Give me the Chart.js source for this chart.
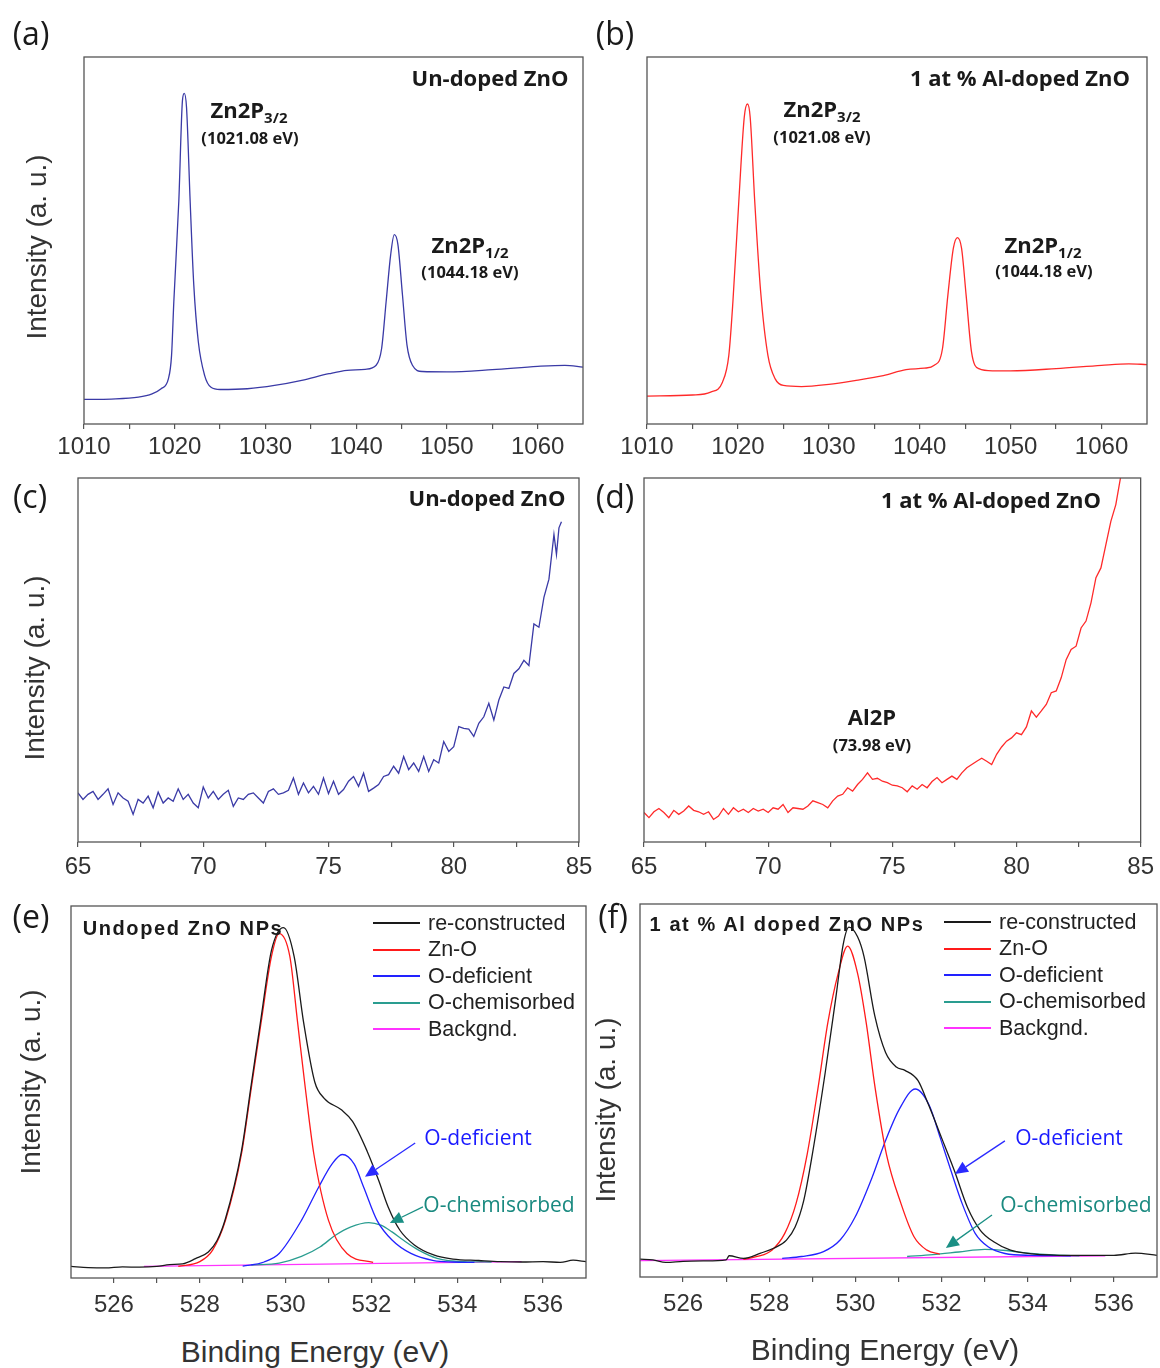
<!DOCTYPE html>
<html>
<head>
<meta charset="utf-8">
<script src="https://cdn.jsdelivr.net/npm/chart.js@4.4.0/dist/chart.umd.min.js"></script>
<style>
  body { margin: 0; background: #fff; }
  #fig { position: relative; width: 1160px; height: 1368px; overflow: hidden; }
  canvas { position: absolute; }
  .t { position: absolute; white-space: nowrap; transform: translate(-50%, -50%); line-height: 1; color: #1a1a1a; }
  .lab { font: 32px "Open Sans"; }
  .name { font: bold 22px "Open Sans"; }
  .pk { font: bold 22px "Open Sans"; }
  .pk sub { font-size: 15px; position: relative; top: 5px; vertical-align: baseline; }
  .ev { font: bold 16.5px "Open Sans"; }
  .ytl { font: 28px "Liberation Sans"; color: #333; transform: translate(-50%, -50%) rotate(-90deg); }
  .xtl { font: 30px "Liberation Sans"; color: #333; }
  .np { font: bold 20px "Liberation Sans"; letter-spacing: 1.6px; }
  .ann { font: 21px "Open Sans"; }
  .legend { position: absolute; font: 21.5px "Liberation Sans"; color: #222; }
  .legend div { height: 26.5px; display: flex; align-items: center; white-space: nowrap; }
  .legend span.ln { display: inline-block; width: 47px; height: 2px; margin-right: 8px; }
</style>
</head>
<body>
<div id="fig">
  <canvas id="ca" width="600" height="425" style="left:0px;top:45px"></canvas>
  <canvas id="cb" width="560" height="425" style="left:600px;top:45px"></canvas>
  <canvas id="cc" width="600" height="415" style="left:0px;top:470px"></canvas>
  <canvas id="cd" width="560" height="415" style="left:600px;top:470px"></canvas>
  <canvas id="ce" width="600" height="440" style="left:0px;top:895px"></canvas>
  <canvas id="cf" width="560" height="440" style="left:600px;top:895px"></canvas>

  <div class="t lab" style="left:31px;top:32px">(a)</div>
  <div class="t lab" style="left:615px;top:32px">(b)</div>
  <div class="t lab" style="left:30px;top:495px">(c)</div>
  <div class="t lab" style="left:615px;top:495px">(d)</div>
  <div class="t lab" style="left:31px;top:915px">(e)</div>
  <div class="t lab" style="left:613px;top:915px">(f)</div>

  <div class="t ytl" style="left:37px;top:247px">Intensity (a. u.)</div>
  <div class="t ytl" style="left:35px;top:668px">Intensity (a. u.)</div>
  <div class="t ytl" style="left:31px;top:1082px">Intensity (a. u.)</div>
  <div class="t ytl" style="left:606px;top:1110px">Intensity (a. u.)</div>
  <div class="t xtl" style="left:315px;top:1352px">Binding Energy (eV)</div>
  <div class="t xtl" style="left:885px;top:1350px">Binding Energy (eV)</div>

  <div class="t name" style="left:490px;top:77px">Un-doped ZnO</div>
  <div class="t pk" style="left:249px;top:109px">Zn2P<sub>3/2</sub></div>
  <div class="t ev" style="left:250px;top:137px">(1021.08 eV)</div>
  <div class="t pk" style="left:470px;top:244px">Zn2P<sub>1/2</sub></div>
  <div class="t ev" style="left:470px;top:271px">(1044.18 eV)</div>

  <div class="t name" style="left:1020px;top:77px">1 at % Al-doped ZnO</div>
  <div class="t pk" style="left:822px;top:108px">Zn2P<sub>3/2</sub></div>
  <div class="t ev" style="left:822px;top:136px">(1021.08 eV)</div>
  <div class="t pk" style="left:1043px;top:244px">Zn2P<sub>1/2</sub></div>
  <div class="t ev" style="left:1044px;top:270px">(1044.18 eV)</div>

  <div class="t name" style="left:487px;top:497px">Un-doped ZnO</div>
  <div class="t name" style="left:991px;top:499px">1 at % Al-doped ZnO</div>
  <div class="t pk" style="left:872px;top:716px">Al2P</div>
  <div class="t ev" style="left:872px;top:744px">(73.98 eV)</div>

  <div class="t np" style="left:183px;top:928px">Undoped ZnO NPs</div>
  <div class="t ann" style="left:478px;top:1137px;color:#1a1aff">O-deficient</div>
  <div class="t ann" style="left:499px;top:1204px;color:#1a8a80">O-chemisorbed</div>
  <div class="legend" id="lege" style="left:373px;top:910px"></div>

  <div class="t np" style="left:787px;top:924px">1 at % Al doped ZnO NPs</div>
  <div class="t ann" style="left:1069px;top:1137px;color:#1a1aff">O-deficient</div>
  <div class="t ann" style="left:1076px;top:1204px;color:#1a8a80">O-chemisorbed</div>
  <div class="legend" id="legf" style="left:944px;top:909px"></div>
</div>

<script>
// tick labels
const zn2pMajor = [1010, 1020, 1030, 1040, 1050, 1060];
const zn2pMinor = [1015, 1025, 1035, 1045, 1055];
const al2pMajor = [65, 70, 75, 80, 85];
const al2pMinor = [67.5, 72.5, 77.5, 82.5];
const o1sMajor = [526, 528, 530, 532, 534, 536];
const o1sMinor = [527, 529, 531, 533, 535];

// (a) Zn 2p, un-doped  (intensity as fraction of frame height)
const aE = [1010,1013,1016,1017.5,1018.5,1019.3,1019.65,1019.9,1020.45,1020.85,1021.05,1021.3,1021.7,1022.1,1022.6,1023.3,1024,1025,1028,1031,1034,1037,1039,1041,1042.2,1042.8,1043.3,1043.8,1044.2,1044.6,1045.1,1045.6,1046.2,1047.3,1050,1055,1060,1063,1065];
const aI = [.067,.068,.073,.082,.096,.123,.187,.333,.607,.881,.901,.863,.607,.379,.224,.132,.100,.094,.096,.105,.119,.137,.146,.149,.160,.205,.333,.461,.516,.489,.352,.215,.160,.143,.142,.148,.157,.160,.155];

// (b) Zn 2p, 1 at% Al
const bE = [1010,1015,1017,1018.3,1019.0,1019.45,1020.1,1020.7,1021.05,1021.35,1021.85,1022.5,1023.3,1024.1,1025,1027,1030,1033,1036,1038.5,1040.5,1041.6,1042.5,1043.1,1043.7,1044.15,1044.6,1045.1,1045.7,1046.5,1048,1050,1055,1060,1063,1065];
const bI = [.076,.079,.087,.114,.187,.333,.607,.836,.872,.836,.607,.361,.187,.123,.105,.102,.108,.119,.132,.148,.152,.160,.205,.352,.479,.508,.479,.352,.196,.151,.145,.145,.151,.160,.164,.162];

// (c) Al 2p region, un-doped
const cE = [65.0,65.2,65.4,65.6,65.8,66.0,66.2,66.4,66.6,66.8,67.0,67.2,67.4,67.6,67.8,68.0,68.2,68.4,68.6,68.8,
  69.0,69.2,69.4,69.6,69.8,70.0,70.2,70.4,70.6,70.8,71.0,71.2,71.4,71.6,71.8,72.0,72.2,72.4,72.6,72.8,
  73.0,73.2,73.4,73.6,73.8,74.0,74.2,74.4,74.6,74.8,75.0,75.2,75.4,75.6,75.8,76.0,76.2,76.4,76.6,76.8,
  77.0,77.2,77.4,77.6,77.8,78.0,78.2,78.4,78.6,78.8,79.0,79.2,79.4,79.6,79.8,80.0,80.2,80.4,80.6,80.8,
  81.0,81.2,81.4,81.6,81.8,82.0,82.2,82.4,82.6,82.8,83.0,83.2,83.4,83.6,83.8,84.0,84.1,84.2,84.3];
const cI = [.135,.117,.131,.139,.117,.131,.146,.103,.135,.121,.112,.076,.117,.107,.126,.094,.137,.107,.121,.112,
  .146,.117,.131,.107,.094,.151,.121,.139,.117,.131,.142,.098,.121,.117,.131,.135,.121,.107,.139,.146,
  .131,.135,.142,.176,.131,.162,.135,.153,.131,.176,.133,.167,.131,.144,.167,.180,.153,.189,.139,.148,
  .158,.180,.185,.208,.189,.235,.199,.217,.194,.235,.194,.226,.217,.276,.249,.262,.317,.312,.310,.290,
  .326,.344,.381,.335,.390,.426,.422,.463,.476,.499,.485,.599,.590,.672,.722,.845,.790,.863,.880];

// (d) Al 2p region, 1 at% Al
const dE = [65.0,65.2,65.4,65.6,65.8,66.0,66.2,66.4,66.6,66.8,67.0,67.2,67.4,67.6,67.8,68.0,68.2,68.4,68.6,68.8,
  69.0,69.2,69.4,69.6,69.8,70.0,70.2,70.4,70.6,70.8,71.0,71.2,71.4,71.6,71.8,72.0,72.2,72.4,72.6,72.8,
  73.0,73.2,73.4,73.6,73.8,74.0,74.2,74.4,74.6,74.8,75.0,75.2,75.4,75.6,75.8,76.0,76.2,76.4,76.6,76.8,
  77.0,77.2,77.4,77.6,77.8,78.0,78.2,78.4,78.6,78.8,79.0,79.2,79.4,79.6,79.8,80.0,80.2,80.4,80.6,80.8,
  81.0,81.2,81.4,81.6,81.8,82.0,82.2,82.4,82.6,82.8,83.0,83.2,83.4,83.6,83.8,84.0,84.2];
const dI = [.081,.067,.083,.092,.081,.067,.087,.076,.085,.099,.087,.083,.076,.083,.062,.071,.092,.076,.094,.083,
  .090,.081,.092,.085,.090,.081,.094,.090,.103,.081,.094,.092,.090,.099,.113,.108,.103,.094,.113,.126,
  .131,.149,.140,.158,.172,.190,.172,.175,.167,.163,.156,.154,.149,.138,.154,.145,.158,.149,.166,.177,
  .163,.172,.181,.172,.190,.204,.213,.222,.230,.222,.213,.241,.261,.277,.286,.300,.295,.316,.360,.343,
  .360,.378,.410,.415,.451,.501,.529,.538,.588,.607,.657,.726,.753,.817,.881,.927,1.005];

// (e) O 1s, undoped
const eSumE = [525,525.4,525.8,526.2,526.6,527,527.3,527.6,527.9,528.2,528.4,528.6,528.97,529.2,529.43,529.67,529.95,530.2,530.42,530.68,530.9,531.3,531.56,531.9,532.17,532.39,532.66,533.0,533.45,533.9,534.5,535,535.5,536,536.4,536.7,537];
const eSumI = [.031,.028,.027,.030,.029,.031,.036,.038,.052,.070,.10,.16,.34,.52,.70,.88,.942,.864,.687,.527,.483,.452,.421,.341,.262,.191,.129,.089,.062,.051,.047,.044,.043,.044,.042,.048,.044];
const eZnOE = [527.5,528,528.3,528.6,528.97,529.2,529.43,529.67,529.85,530.1,530.28,530.46,530.66,531.0,531.43,532.04];
const eZnOI = [.031,.044,.075,.155,.332,.510,.687,.864,.926,.864,.687,.510,.332,.155,.066,.042];
const eDefE = [529,529.5,529.85,530.37,530.77,531.08,531.32,531.6,531.82,532.13,532.48,532.92,533.45,533.9,534.4];
const eDefI = [.032,.043,.066,.155,.244,.306,.332,.306,.244,.155,.102,.066,.047,.043,.042];
const eChemE = [529.2,529.85,530.37,530.81,531.16,531.51,531.94,532.22,532.48,532.74,533.1,533.53,534.15,534.8];
const eChemI = [.035,.040,.058,.084,.115,.137,.149,.142,.124,.102,.075,.053,.044,.043];
const eBgE = [526.7, 535.5];
const eBgI = [.031, .044];

// (f) O 1s, 1 at% Al
const fSumE = [525,525.3,525.6,526,526.5,527,527.07,527.4,527.8,528.1,528.4,528.6,528.8,529.0,529.3,529.55,529.72,529.85,530.05,530.2,530.45,530.7,530.95,531.15,531.45,531.7,532.0,532.3,532.6,532.9,533.2,533.6,534.1,535,536,536.5,537];
const fSumI = [.048,.046,.039,.042,.043,.046,.057,.050,.064,.077,.099,.134,.205,.329,.549,.753,.894,.938,.912,.859,.700,.602,.563,.554,.527,.461,.373,.284,.187,.125,.095,.072,.062,.058,.058,.064,.058];
const fZnOE = [527.4,527.72,528.06,528.36,528.62,528.88,529.13,529.36,529.6,529.82,530.05,530.25,530.46,530.72,531.06,531.36,531.66,531.96];
const fZnOI = [.047,.055,.072,.117,.196,.329,.505,.682,.814,.887,.814,.682,.505,.329,.196,.108,.072,.061];
const fDefE = [528.3,528.75,529.26,529.65,529.99,530.38,530.68,531.02,531.39,531.71,531.97,532.22,532.48,532.78,533.08,533.47,534.07,535];
const fDefI = [.050,.055,.068,.100,.160,.265,.360,.450,.504,.461,.373,.284,.196,.117,.081,.063,.058,.057];
const fChemE = [531.2,531.8,532.4,533.0,533.5,534.0,534.6,535.2];
const fChemI = [.055,.060,.067,.074,.071,.064,.059,.057];
const fBgE = [525, 535.8];
const fBgI = [.044, .057];

const fitNames = ['re-constructed', 'Zn-O', 'O-deficient', 'O-chemisorbed', 'Backgnd.'];
const fitColors = ['#1a1a1a', '#ff1a1a', '#2222ff', '#2a9d90', '#ff33ff'];

function pts(E, I) {
  return E.map((x, i) => ({ x: x, y: I[i] }));
}

const framePlugin = {
  id: 'frame',
  afterDatasetsDraw(chart) {
    const a = chart.chartArea, ctx = chart.ctx;
    ctx.save();
    ctx.strokeStyle = '#555';
    ctx.lineWidth = 1.3;
    ctx.strokeRect(a.left, a.top, a.right - a.left, a.bottom - a.top);
    ctx.restore();
  }
};

function arrowPlugin(list) {
  return {
    id: 'arrows',
    afterDatasetsDraw(chart) {
      const ctx = chart.ctx, xs = chart.scales.x, ys = chart.scales.y;
      list.forEach(a => {
        const x1 = xs.getPixelForValue(a.from[0]), y1 = ys.getPixelForValue(a.from[1]);
        const x2 = xs.getPixelForValue(a.to[0]), y2 = ys.getPixelForValue(a.to[1]);
        const ang = Math.atan2(y2 - y1, x2 - x1);
        const hl = 13, hw = 6;
        const bx = x2 - hl * Math.cos(ang), by = y2 - hl * Math.sin(ang);
        ctx.save();
        ctx.strokeStyle = a.color;
        ctx.fillStyle = a.color;
        ctx.lineWidth = 1.3;
        ctx.beginPath();
        ctx.moveTo(x1, y1);
        ctx.lineTo(bx, by);
        ctx.stroke();
        ctx.beginPath();
        ctx.moveTo(x2, y2);
        ctx.lineTo(bx + hw * Math.sin(ang), by - hw * Math.cos(ang));
        ctx.lineTo(bx - hw * Math.sin(ang), by + hw * Math.cos(ang));
        ctx.closePath();
        ctx.fill();
        ctx.restore();
      });
    }
  };
}

function makePanel(id, p) {
  const cv = document.getElementById(id);
  const cx = parseFloat(cv.style.left), cy = parseFloat(cv.style.top);
  const cw = cv.width, ch = cv.height;
  const ticks = p.major.concat(p.minor).sort((a, b) => a - b);
  return new Chart(cv, {
    type: 'line',
    data: {
      datasets: p.series.map(s => ({
        label: s.label,
        data: pts(s.E, s.I),
        borderColor: s.color,
        borderWidth: 1.3,
        pointRadius: 0,
        fill: false,
        cubicInterpolationMode: s.smooth ? 'monotone' : 'default',
        tension: 0
      }))
    },
    options: {
      responsive: false,
      animation: false,
      events: [],
      layout: { padding: { left: p.area.l - cx, top: p.area.t - cy, right: cx + cw - p.area.r, bottom: 0 } },
      plugins: { legend: { display: false }, tooltip: { enabled: false } },
      scales: {
        x: {
          type: 'linear', min: p.min, max: p.max,
          afterBuildTicks: sc => { sc.ticks = ticks.map(v => ({ value: v })); },
          afterFit: sc => { sc.height = cy + ch - p.area.b; },
          grid: { display: true, drawOnChartArea: false, drawTicks: true, tickLength: 5, color: '#555', lineWidth: 1.2 },
          border: { display: false },
          ticks: {
            autoSkip: false, maxRotation: 0, padding: p.tickPad, color: '#333',
            font: { family: 'Liberation Sans', size: 24 },
            callback: v => p.major.includes(v) ? String(v) : ''
          }
        },
        y: { display: false, min: 0, max: 1 }
      }
    },
    plugins: [framePlugin, arrowPlugin(p.arrows || [])]
  });
}

function buildLegend(el, chart) {
  chart.data.datasets.forEach(ds => {
    const row = document.createElement('div');
    const ln = document.createElement('span');
    ln.className = 'ln';
    ln.style.backgroundColor = ds.borderColor;
    row.appendChild(ln);
    row.appendChild(document.createTextNode(ds.label));
    el.appendChild(row);
  });
}

const blueLine = '#3a3aa6', redLine = '#ff2a2a';

makePanel('ca', { area: { l: 84, t: 57, r: 583, b: 424 }, min: 1010, max: 1065, major: zn2pMajor, minor: zn2pMinor, tickPad: 4,
  series: [{ label: 'Un-doped ZnO', E: aE, I: aI, color: blueLine, smooth: true }] });
makePanel('cb', { area: { l: 647, t: 57, r: 1147, b: 424 }, min: 1010, max: 1065, major: zn2pMajor, minor: zn2pMinor, tickPad: 4,
  series: [{ label: '1 at % Al-doped ZnO', E: bE, I: bI, color: redLine, smooth: true }] });
makePanel('cc', { area: { l: 78, t: 478, r: 579, b: 842 }, min: 65, max: 85, major: al2pMajor, minor: al2pMinor, tickPad: 6,
  series: [{ label: 'Un-doped ZnO', E: cE, I: cI, color: blueLine, smooth: false }] });
makePanel('cd', { area: { l: 644, t: 478, r: 1144, b: 842 }, min: 65, max: 85, major: al2pMajor, minor: al2pMinor, tickPad: 6,
  series: [{ label: '1 at % Al-doped ZnO', E: dE, I: dI, color: redLine, smooth: false }] });

const chE = makePanel('ce', { area: { l: 71, t: 906, r: 586, b: 1278 }, min: 525, max: 537, major: o1sMajor, minor: o1sMinor, tickPad: 8,
  series: [
    { label: fitNames[0], E: eSumE, I: eSumI, color: fitColors[0], smooth: true },
    { label: fitNames[1], E: eZnOE, I: eZnOI, color: fitColors[1], smooth: true },
    { label: fitNames[2], E: eDefE, I: eDefI, color: fitColors[2], smooth: true },
    { label: fitNames[3], E: eChemE, I: eChemI, color: fitColors[3], smooth: true },
    { label: fitNames[4], E: eBgE, I: eBgI, color: fitColors[4], smooth: true }
  ],
  arrows: [
    { from: [533.02, 0.363], to: [531.85, 0.272], color: '#2a2aff' },
    { from: [533.20, 0.191], to: [532.43, 0.148], color: '#1a8f84' }
  ] });
const chF = makePanel('cf', { area: { l: 640, t: 904, r: 1157, b: 1277 }, min: 525, max: 537, major: o1sMajor, minor: o1sMinor, tickPad: 8,
  series: [
    { label: fitNames[0], E: fSumE, I: fSumI, color: fitColors[0], smooth: true },
    { label: fitNames[1], E: fZnOE, I: fZnOI, color: fitColors[1], smooth: true },
    { label: fitNames[2], E: fDefE, I: fDefI, color: fitColors[2], smooth: true },
    { label: fitNames[3], E: fChemE, I: fChemI, color: fitColors[3], smooth: true },
    { label: fitNames[4], E: fBgE, I: fBgI, color: fitColors[4], smooth: true }
  ],
  arrows: [
    { from: [533.47, 0.365], to: [532.31, 0.276], color: '#2a2aff' },
    { from: [533.17, 0.166], to: [532.10, 0.078], color: '#1a8f84' }
  ] });

buildLegend(document.getElementById('lege'), chE);
buildLegend(document.getElementById('legf'), chF);
</script>
</body>
</html>
